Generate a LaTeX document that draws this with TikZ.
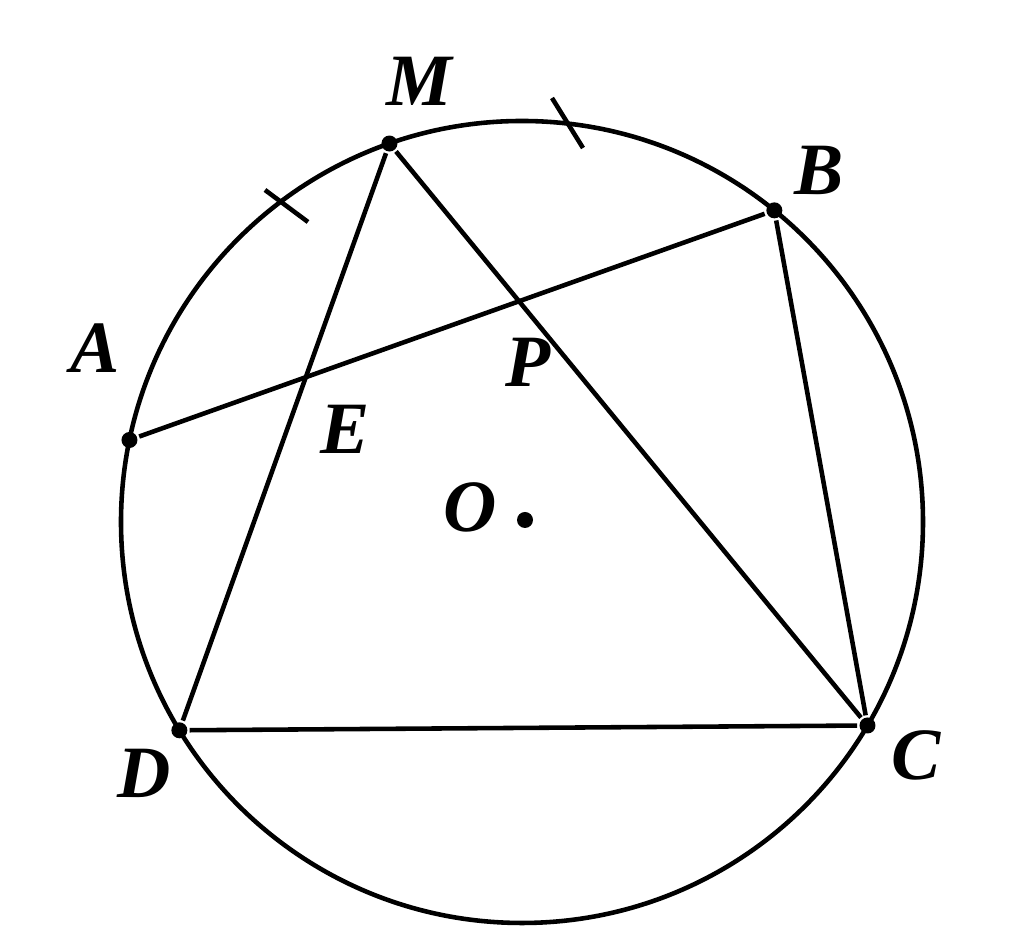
\documentclass[tikz,border=0pt]{standalone}
\usepackage{fontspec}
\setmainfont{Liberation Serif}
\usetikzlibrary{positioning}

\begin{document}
\begin{tikzpicture}[on grid,
line width=1.3pt,
dot/.style={circle,fill,inner sep=0pt,minimum size=0.16cm},
lbl/.style={font=\fontsize{21}{24}\selectfont\bfseries\itshape,inner sep=0pt}
]
\useasboundingbox (0,0) rectangle (10.24,9.39);
\coordinate (ctr) at (5.22,4.17);
\draw (ctr) circle (4.01);
\begin{scope}[shift={(ctr)}]
\node[dot] (M) at (109.3:4.01) {};
\node[dot] (B) at (51.0:4.01) {};
\node[dot] (A) at (168.2:4.01) {};
\node[dot] (D) at (211.3:4.01) {};
\node[dot] (C) at (329.5:4.01) {};
\end{scope}
\node[dot] (O) at (5.25,4.19) {};
\coordinate (E) at (intersection of M--D and A--B);
\coordinate (P) at (intersection of M--C and A--B);
% labels
\node[lbl] (lM) [above right=0.62cm and 0.3cm of M] {M};
\node[lbl] (lB) [above right=0.4cm and 0.45cm of B] {B};
\node[lbl] (lA) [above left=0.92cm and 0.34cm of A] {A};
\node[lbl] (lD) [below left=0.43cm and 0.35cm of D] {D};
\node[lbl] (lC) [below right=0.3cm and 0.49cm of C] {C};
\node[lbl] (lE) at ([shift={(0.39,-0.52)}]E) {E};
\node[lbl] (lP) at ([shift={(0.09,-0.61)}]P) {P};
\node[lbl] (lO) [above left=0.13cm and 0.55cm of O] {O};
% sides
\draw (A) -- (B) -- (C) -- (D) -- cycle;
\draw (D) -- (M) -- (C);
% equal arcs
\draw (2.65,7.49) -- (3.08,7.17);
\draw (5.52,8.41) -- (5.83,7.91);
\end{tikzpicture}
\end{document}
